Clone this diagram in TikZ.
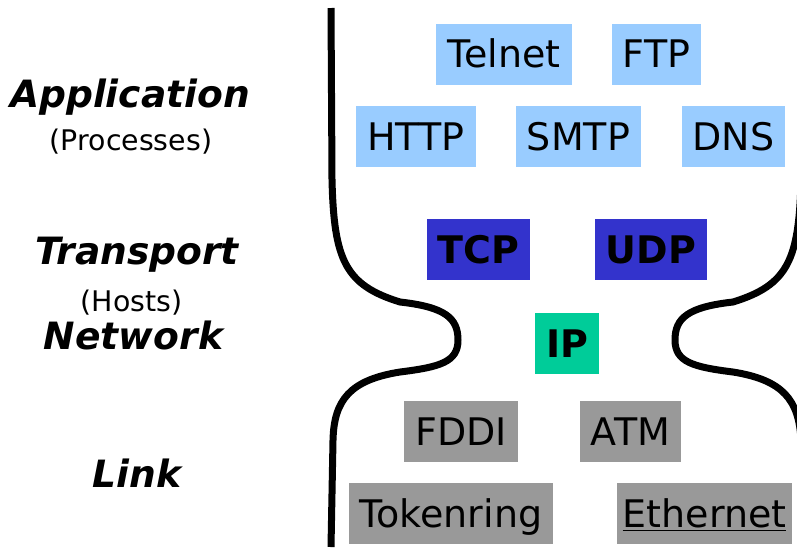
\documentclass[tikz,border=0pt]{standalone}
\usepackage{fontspec}
\setmainfont{DejaVu Sans}
\definecolor{appc}{HTML}{99CCFF}
\definecolor{transc}{HTML}{3333CC}
\definecolor{netc}{HTML}{00CC99}
\definecolor{linkc}{HTML}{999999}

\begin{document}
\begin{tikzpicture}[x=0.5pt, y=-0.5pt,
    proto/.style={inner xsep=5.5pt, inner ysep=0pt, minimum height=30.5pt,
                  text height=13.9pt, text depth=0pt, font=\fontsize{19}{22}\selectfont},
    layer/.style={anchor=base, font=\fontsize{18.8}{22}\selectfont\bfseries\itshape},
    sub/.style={anchor=base, font=\fontsize{14.2}{17}\selectfont}]
  \useasboundingbox (0,0) rectangle (797,547);
  % hourglass outline
  \draw[line width=3.5pt] (331,8) -- (332,180)
    .. controls (334,260) and (345,285) .. (400,302)
    .. controls (445,307) and (458,318) .. (458,340)
    .. controls (458,362) and (440,367) .. (400,372)
    .. controls (350,380) and (334,400) .. (333,440) -- (331,547);
  \draw[line width=3.5pt] (802,8) -- (801,180)
    .. controls (799,260) and (788,285) .. (733,302)
    .. controls (688,307) and (675,318) .. (675,340)
    .. controls (675,362) and (693,367) .. (733,372)
    .. controls (783,380) and (799,400) .. (801,440) -- (803,547);
  % layer names
  \node[layer] (application) at (130,107) {Application};
  \node[sub] (processes) at (131,150) {(Processes)};
  \node[layer] (transport) at (137,264) {Transport};
  \node[sub] (hosts) at (131.5,311) {(Hosts)};
  \node[layer] (network) at (133.5,349) {Network};
  \node[layer] (link) at (137,487) {Link};
  % application protocols
  \node[proto, fill=appc] (telnet) at (504,54) {Telnet};
  \node[proto, fill=appc] (ftp) at (656.5,54) {FTP};
  \node[proto, fill=appc] (http) at (416,136.5) {HTTP};
  \node[proto, fill=appc] (smtp) at (578.5,136.5) {SMTP};
  \node[proto, fill=appc] (dns) at (733.5,136.5) {DNS};
  % transport and network
  \node[proto, fill=transc, font=\fontsize{19}{22}\selectfont\bfseries] (tcp) at (478.5,249.5) {TCP};
  \node[proto, fill=transc, font=\fontsize{19}{22}\selectfont\bfseries] (udp) at (651,249.5) {UDP};
  \node[proto, fill=netc, font=\fontsize{19}{22}\selectfont\bfseries] (ip) at (567,343.5) {IP};
  % link technologies
  \node[proto, fill=linkc] (fddi) at (461,431.5) {FDDI};
  \node[proto, fill=linkc] (atm) at (630.5,431.5) {ATM};
  \node[proto, fill=linkc] (tokenring) at (451,513.5) {Tokenring};
  \node[proto, fill=linkc, inner xsep=3pt] (ethernet) at (704.5,513.5) {\underline{Ethernet}};
\end{tikzpicture}
\end{document}
